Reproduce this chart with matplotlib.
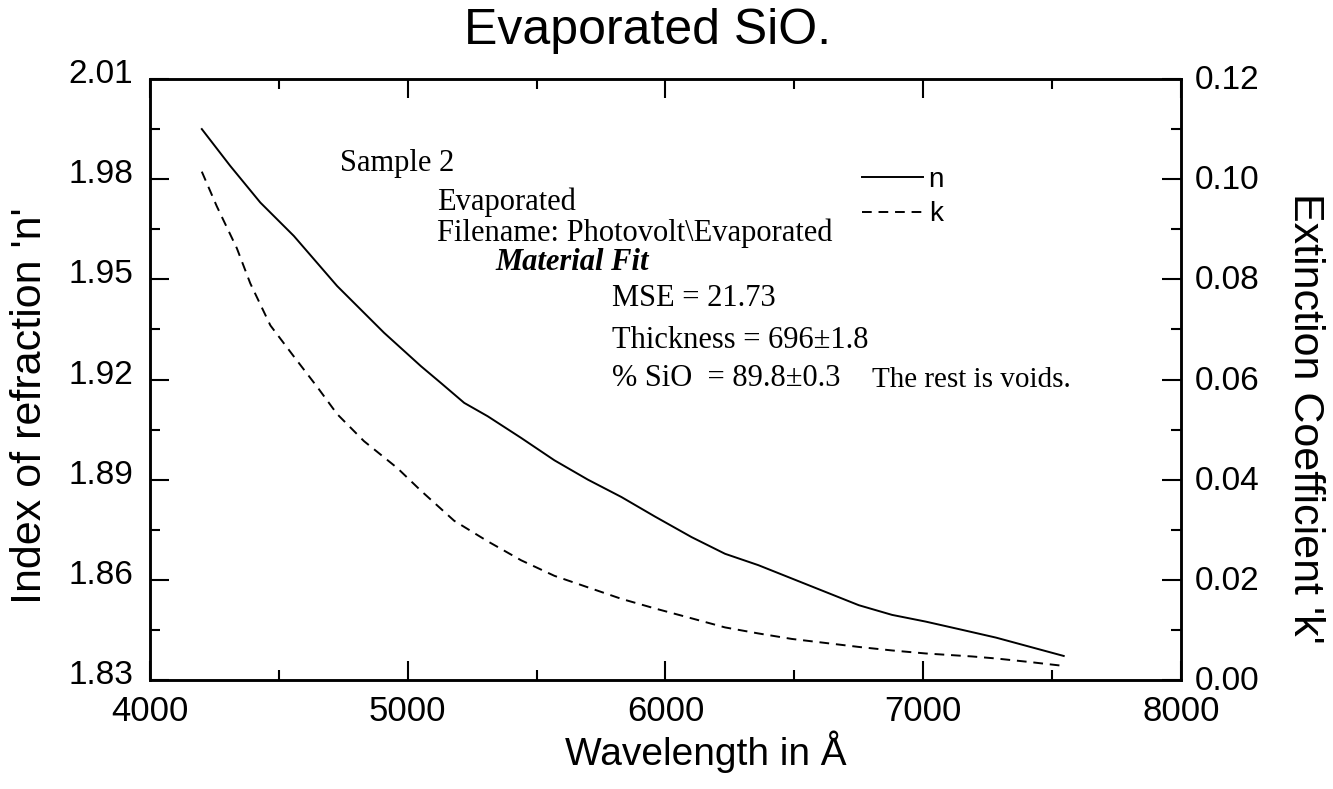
import matplotlib
matplotlib.use("Agg")
import matplotlib.pyplot as plt
import matplotlib.transforms as mtransforms
from matplotlib.ticker import MultipleLocator, FormatStrFormatter

# values
wl_n = [4201, 4311, 4428, 4558, 4726, 4804, 4908, 5051, 5128, 5219, 5310,
        5440, 5569, 5699, 5829, 5958, 6101, 6231, 6360, 6490, 6620, 6750,
        6879, 7009, 7152, 7282, 7411, 7545]
n_vals = [1.995, 1.984, 1.973, 1.963, 1.948, 1.942, 1.934, 1.924, 1.919,
          1.913, 1.909, 1.9025, 1.8958, 1.8900, 1.8848, 1.8790, 1.8728,
          1.8678, 1.8644, 1.8604, 1.8564, 1.8524, 1.8495, 1.8475, 1.8450,
          1.8427, 1.8400, 1.8372]

wl_k = [4201, 4259, 4337, 4389, 4467, 4558, 4649, 4726, 4830, 4960, 5051,
        5180, 5310, 5440, 5569, 5699, 5829, 5958, 6088, 6231, 6360, 6490,
        6620, 6750, 6879, 7009, 7190, 7282, 7411, 7530]
k_vals = [0.1015, 0.0946, 0.0862, 0.0792, 0.0708, 0.0646, 0.0585, 0.0531,
          0.0477, 0.0423, 0.0378, 0.0318, 0.0277, 0.0239, 0.0208, 0.0185,
          0.0162, 0.0143, 0.0125, 0.0105, 0.0093, 0.0082, 0.0074, 0.0066,
          0.0059, 0.0053, 0.0047, 0.0043, 0.0036, 0.0029]

info_lines = ["Sample 2", "Evaporated", "Filename: Photovolt\\Evaporated",
              "Material Fit", "MSE = 21.73", "Thickness = 696\u00b11.8",
              "% SiO  = 89.8\u00b10.3", "The rest is voids."]

SANS = "Liberation Sans"
SERIF = "Liberation Serif"
plt.rcParams["font.family"] = SANS

W, H = 1333, 789
fig = plt.figure(figsize=(W / 100, H / 100), dpi=100)
ax = fig.add_axes([150 / W, 1 - 680 / H, 1031 / W, 601 / H])
ax2 = ax.twinx()

ln, = ax.plot(wl_n, n_vals, color="black", lw=1.4)
lk, = ax2.plot(wl_k, k_vals, color="black", lw=1.4, linestyle=(0, (5, 3.5)))

ax.set_xlim(4000, 8000)
ax.set_ylim(1.83, 2.01)
ax2.set_ylim(0.0, 0.12)

ax.xaxis.set_major_locator(MultipleLocator(1000))
ax.xaxis.set_minor_locator(MultipleLocator(500))
ax.yaxis.set_major_locator(MultipleLocator(0.03))
ax.yaxis.set_minor_locator(MultipleLocator(0.015))
ax.yaxis.set_major_formatter(FormatStrFormatter("%.2f"))
ax2.yaxis.set_major_locator(MultipleLocator(0.02))
ax2.yaxis.set_minor_locator(MultipleLocator(0.01))
ax2.yaxis.set_major_formatter(FormatStrFormatter("%.2f"))

ax.tick_params(axis="both", which="major", direction="in", length=14,
               width=1.5, top=True, labelsize=24, pad=12)
ax.tick_params(axis="both", which="minor", direction="in", length=7,
               width=1.5, top=True)
ax.tick_params(axis="x", labelsize=25, pad=11)
ax2.tick_params(axis="y", which="major", direction="in", length=14,
                width=1.5, labelsize=24, pad=10)
ax2.tick_params(axis="y", which="minor", direction="in", length=7, width=1.5)

for a in (ax, ax2):
    for sp in a.spines.values():
        sp.set_linewidth(1.8)

# the scanned y labels sit a little above their ticks
shift_l = mtransforms.ScaledTranslation(0, 0.08, fig.dpi_scale_trans)
shift_r = mtransforms.ScaledTranslation(0, 0.02, fig.dpi_scale_trans)
for lab in ax.get_yticklabels():
    lab.set_transform(lab.get_transform() + shift_l)
for lab in ax2.get_yticklabels():
    lab.set_transform(lab.get_transform() + shift_r)

fig.text(648 / W, 1 - 31 / H, "Evaporated SiO.", fontsize=36,
         ha="center", va="center")
fig.text(706 / W, 1 - 752 / H, "Wavelength in \u00c5", fontsize=28,
         ha="center", va="center")
fig.text(30 / W, 1 - 406 / H, "Index of refraction 'n'", fontsize=31,
         rotation=90, ha="center", va="center")
fig.text(1305 / W, 1 - 418 / H, "Extinction Coefficient 'k'", fontsize=31,
         rotation=270, ha="center", va="center")

# annotation block (pixel positions of the scan)
info_pos = [(340, 164), (437, 202), (437, 233), (495, 262), (612, 299),
            (612, 340), (612, 378), (872, 380)]
info_size = [22, 22, 22, 22, 22, 22, 22, 21]
for txt, (px, py), fs in zip(info_lines, info_pos, info_size):
    kw = dict(fontsize=fs, family=SERIF, ha="left", va="center")
    if txt == "Material Fit":
        kw.update(weight="bold", style="italic")
    fig.text(px / W, 1 - py / H, txt, **kw)

leg = ax2.legend([ln, lk], ["n", "k"], loc="upper left",
                 bbox_to_anchor=((862 - 150) / 1031, 1 - (167 - 79) / 601),
                 frameon=False, fontsize=20, handlelength=2.2,
                 handletextpad=0.2, labelspacing=0.3, borderpad=0,
                 borderaxespad=0)

fig.savefig("out.png", dpi=100)
